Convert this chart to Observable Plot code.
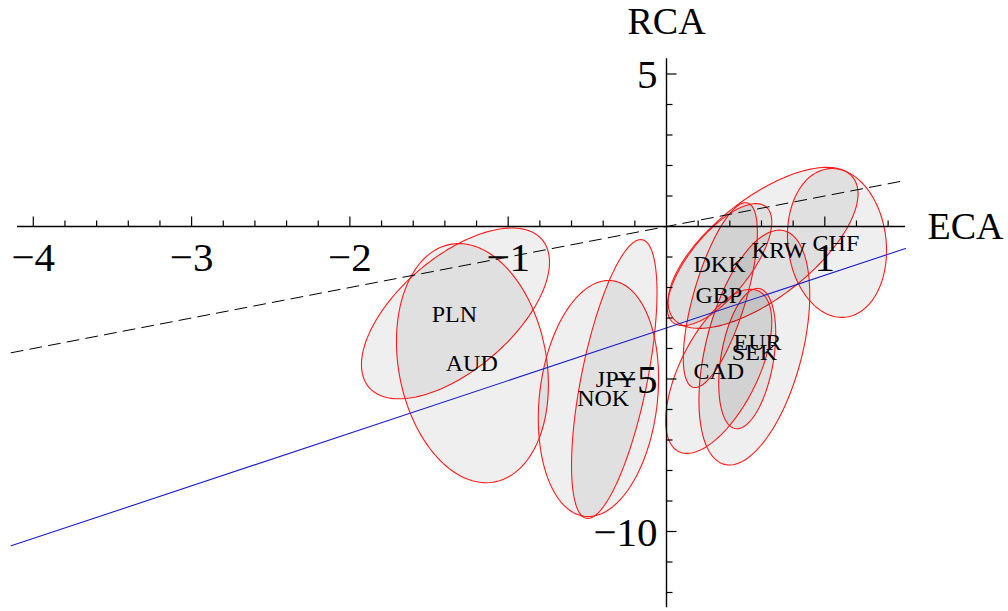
<!DOCTYPE html>
<html>
<head>
<meta charset="utf-8">
<script src="https://cdn.jsdelivr.net/npm/d3@7"></script>
<script src="https://cdn.jsdelivr.net/npm/@observablehq/plot@0.6"></script>
<style>
  html, body { margin: 0; padding: 0; background: #fff; }
  #chart svg { display: block; }
</style>
</head>
<body>
<div id="chart"></div>
<script>
// ---- data ----
const currencies = ["PLN", "AUD", "NOK", "JPY", "KRW", "CHF", "EUR", "SEK", "GBP", "DKK", "CAD"];
const centerX = [-1.333, -1.226, -0.43, -0.33, 0.61, 1.077, 0.555, 0.51, 0.34, 0.335, 0.33];
const centerY = [-2.85, -4.48, -5.64, -5.0, -0.70, -0.54, -3.97, -4.33, -2.25, -1.25, -4.75];
const spreadX = [0.594, 0.48, 0.38, 0.27, 0.60, 0.313, 0.35, 0.18, 0.234, 0.33, 0.335];
const spreadY = [2.80, 3.92, 3.87, 4.57, 2.64, 2.44, 3.85, 2.30, 3.03, 2.0, 2.69];
const corr = [0.60, -0.18, 0.17, 0.62, 0.67, -0.10, 0.45, 0.36, 0.68, 0.70, 0.60];
const labelX = [-1.34, -1.23, -0.40, -0.32, 0.71, 1.07, 0.575, 0.556, 0.33, 0.335, 0.33];
const labelY = [-2.89, -4.49, -5.64, -5.02, -0.79, -0.56, -3.80, -4.13, -2.26, -1.25, -4.75];

const xTickLabels = [-4, -3, -2, -1, 1];
const yTickLabels = [5, -5, -10];
const lineEndsX = [-4.14, 1.51];
const dashedY = [-4.14, 1.51];
const blueY = [-10.47, -0.72];

// ---- geometry ----
const W = 1008, H = 611;
const x0px = 666, xPer = 158.3, y0px = 226, yPer = 30.5;
const xDomain = [-x0px / xPer, (W - x0px) / xPer];
const yDomain = [(y0px - H) / yPer, y0px / yPer];

const ellipses = [];
currencies.forEach((c, i) => {
  const n = 160;
  const s = Math.sqrt(1 - corr[i] * corr[i]);
  for (let k = 0; k < n; k++) {
    const t = (2 * Math.PI * k) / n;
    ellipses.push({
      cur: c,
      x: centerX[i] + spreadX[i] * Math.cos(t),
      y: centerY[i] + spreadY[i] * (corr[i] * Math.cos(t) + s * Math.sin(t))
    });
  }
});

const labels = currencies.map((c, i) => ({cur: c, x: labelX[i], y: labelY[i]}));

// ticks
const xMinor = d3.range(-20, 8).map(k => k / 5).filter(v => Math.abs(v) > 1e-9);
const yMinor = d3.range(-12, 6).filter(v => v !== 0);
const isMajorX = v => Math.abs(v - Math.round(v)) < 1e-9;
const isMajorY = v => v % 5 === 0;
const xTicks = xMinor.map(v => ({x: v, len: (isMajorX(v) ? 10 : 6) / yPer}));
const yTicks = yMinor.map(v => ({y: v, len: (isMajorY(v) ? 10 : 6) / xPer}));

const dashed = lineEndsX.map((x, i) => ({x, y: dashedY[i]}));
const blue = lineEndsX.map((x, i) => ({x, y: blueY[i]}));

const serif = "'Liberation Serif', 'Times New Roman', serif";

const chart = Plot.plot({
  width: W,
  height: H,
  margin: 0,
  style: {fontFamily: serif, background: "white", color: "black"},
  x: {domain: xDomain, range: [0, W], axis: null},
  y: {domain: yDomain, range: [H, 0], axis: null},
  marks: [
    Plot.line(ellipses, {x: "x", y: "y", z: "cur", curve: "linear-closed",
      fill: "black", fillOpacity: 0.062, stroke: "#ff1a1a", strokeWidth: 1.1}),
    Plot.line(dashed, {x: "x", y: "y", stroke: "black", strokeWidth: 1, strokeDasharray: "12,7"}),
    Plot.line(blue, {x: "x", y: "y", stroke: "#1c1cc8", strokeWidth: 1.1}),
    // axes
    Plot.ruleY([0], {x1: -4.1, x2: 1.51, stroke: "black", strokeWidth: 1.4}),
    Plot.ruleX([0], {y1: -12.5, y2: 5.5, stroke: "black", strokeWidth: 1.4}),
    Plot.link(xTicks, {x1: "x", x2: "x", y1: 0, y2: "len", stroke: "black", strokeWidth: 1.2}),
    Plot.link(yTicks, {x1: 0, x2: "len", y1: "y", y2: "y", stroke: "black", strokeWidth: 1.2}),
    Plot.text(xTickLabels, {x: d => d, y: 0, dy: 31, text: d => (d < 0 ? "\u2212" : "") + Math.abs(d),
      fontSize: 41, textAnchor: "middle", fill: "black"}),
    Plot.text(yTickLabels, {x: 0, y: d => d, dx: -9, dy: 1, text: d => (d < 0 ? "\u2212" : "") + Math.abs(d),
      fontSize: 41, textAnchor: "end", fill: "black"}),
    // currency labels
    Plot.text(labels, {x: "x", y: "y", text: "cur", fontSize: 24, fill: "black"}),
    // axis titles
    Plot.text(["ECA"], {x: 1.51, y: 0, dx: 22, text: d => d, textAnchor: "start", fontSize: 38, fill: "black"}),
    Plot.text(["RCA"], {x: 0, y: 5.5, dy: -37, text: d => d, textAnchor: "middle", fontSize: 38, fill: "black"})
  ]
});
document.getElementById("chart").appendChild(chart);
</script>
</body>
</html>
